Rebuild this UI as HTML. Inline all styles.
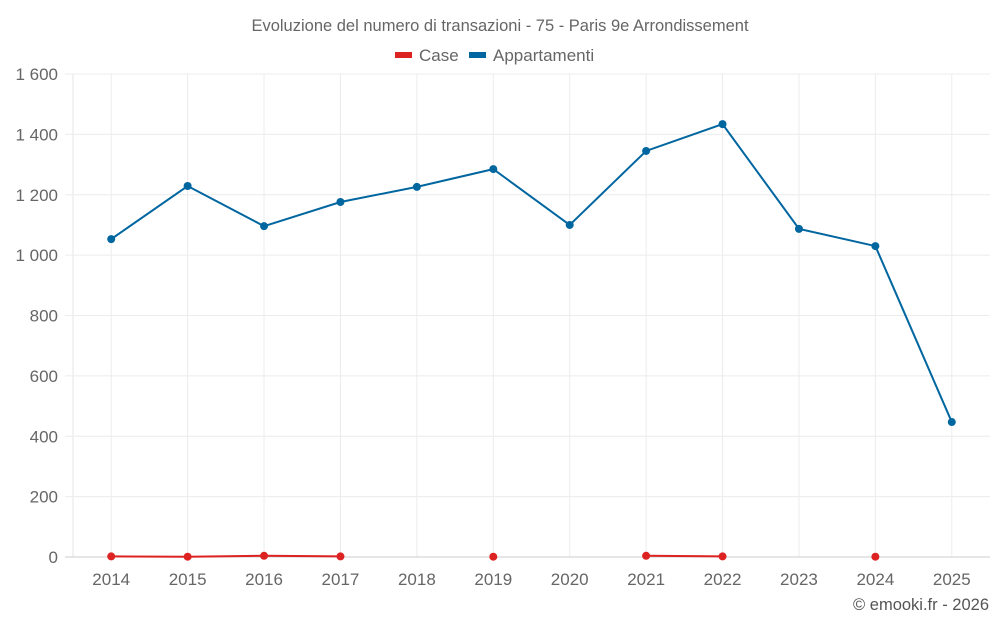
<!DOCTYPE html>
<html><head><meta charset="utf-8"><style>
body{margin:0;background:#fff;font-family:"Liberation Sans",sans-serif;}
</style></head><body>
<svg id="c" width="1000" height="625" xmlns="http://www.w3.org/2000/svg">
<text x="500" y="31" text-anchor="middle" font-size="16.5" fill="#666">Evoluzione del numero di transazioni - 75 - Paris 9e Arrondissement</text>
<g><rect x="395" y="52" width="17" height="6" fill="#dd2222"/><text x="419" y="61" font-size="17" fill="#666">Case</text></g>
<g><rect x="469" y="52" width="17" height="6" fill="#0066a0"/><text x="493" y="61" font-size="17" fill="#666">Appartamenti</text></g>
<g id="grid"></g><g id="axes"></g><g id="series"></g>
<text x="989" y="610" text-anchor="end" font-size="16.5" fill="#555">© emooki.fr - 2026</text>
</svg>
<script>
const categories=["2014","2015","2016","2017","2018","2019","2020","2021","2022","2023","2024","2025"];
const appartamenti=[1053,1229,1096,1176,1226,1285,1100,1345,1434,1087,1030,447];
const case_=[2,1,4,2,null,1,null,4,2,null,1,null];
const yTicks=[0,200,400,600,800,1000,1200,1400,1600];
const yTickLabels=["0","200","400","600","800","1 000","1 200","1 400","1 600"];
const L=73,R=990,T=74,B=557,ymax=1600;
const bw=(R-L)/categories.length;
const x=i=>L+bw*(i+0.5);
const y=v=>B-(v/ymax)*(B-T);
const NS="http://www.w3.org/2000/svg";
function mk(p,t,a){const e=document.createElementNS(NS,t);for(const k in a)e.setAttribute(k,a[k]);p.appendChild(e);return e;}
const g=document.getElementById('grid'),ax=document.getElementById('axes'),s=document.getElementById('series');
const le=mk(g,'line',{x1:L,x2:L,y1:T,y2:B,stroke:'#e6e6e6'});


categories.forEach((c,i)=>{
const l=mk(g,'line',{x1:x(i),x2:x(i),y1:T,y2:B,stroke:'#ececec'});


const t=mk(ax,'text',{x:x(i),y:585,'text-anchor':'middle','font-size':17,fill:'#666'});t.textContent=c;


});
yTicks.forEach((v,i)=>{
const l=mk(g,'line',{x1:65,x2:R,y1:y(v),y2:y(v),stroke:v===0?'#cccccc':'#ececec'});


const t=mk(ax,'text',{x:58,y:y(v)+6,'text-anchor':'end','font-size':17,fill:'#666'});t.textContent=yTickLabels[i];


});
function draw(data,color,name){
let seg=[];
const flush=()=>{if(seg.length>1){const p=mk(s,'polyline',{points:seg.join(' '),fill:'none',stroke:color,'stroke-width':2});

}seg=[];};
data.forEach((v,i)=>{if(v==null){flush();return;}seg.push(x(i)+','+y(v));});flush();
data.forEach((v,i)=>{if(v==null)return;const c=mk(s,'circle',{cx:x(i),cy:y(v),r:4,fill:color});

});
}
draw(appartamenti,'#0066a0','appartamenti');
draw(case_,'#dd2222','case');
</script>
</body></html>
